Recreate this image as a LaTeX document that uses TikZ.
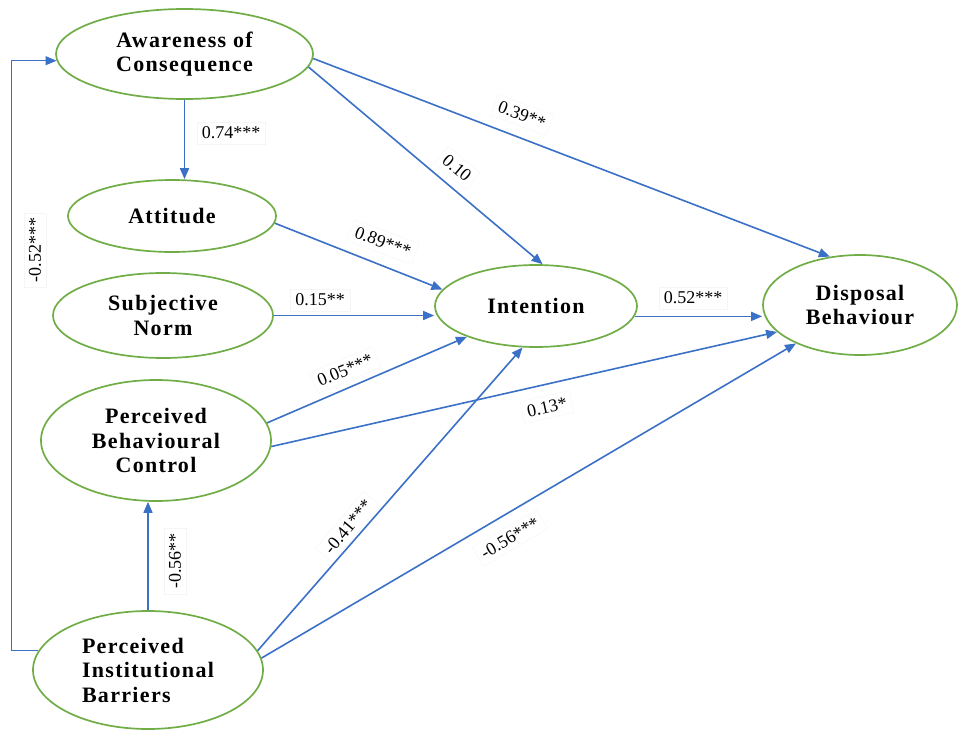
\documentclass[tikz,border=0pt]{standalone}
\usepackage{fontspec}
\setmainfont{Liberation Serif}
\newfontfamily\nodefont[LetterSpace=6]{Liberation Serif}
\usetikzlibrary{shapes.geometric,arrows.meta}
\definecolor{egreen}{HTML}{70AD47}
\definecolor{ablue}{HTML}{3A70C6}
\begin{document}
\begin{tikzpicture}[x=1pt,y=-1pt,
 construct/.style={ellipse, draw=egreen, line width=1.7pt, inner sep=0pt, align=center,
   font=\nodefont\fontsize{22}{24.5}\selectfont\bfseries},
 arr/.style={draw=ablue, line width=1.6pt, -{Triangle[length=11pt,width=9pt]}},
 lab/.style={font=\fontsize{18}{20}\selectfont, draw=black!4, inner sep=5pt}]
\useasboundingbox (0,0) rectangle (958,731);

\node[construct, minimum width=257, minimum height=90] (aoc) at (184.5,54) {Awareness of\\Consequence};
\node[construct, minimum width=208, minimum height=72] (att) at (172,216) {Attitude};
\node[construct, minimum width=220, minimum height=85] (sn) at (163,315.5) {Subjective\\Norm};
\node[construct, minimum width=230, minimum height=121] (pbc) at (156,440.5) {Perceived\\Behavioural\\Control};
\node[construct, minimum width=230, minimum height=118, align=left] (pib) at (148,670) {Perceived\\Institutional\\Barriers};
\node[construct, minimum width=202, minimum height=82] (int) at (536,306) {Intention};
\node[construct, minimum width=194, minimum height=100] (disp) at (860,305) {Disposal\\Behaviour};

\draw[arr] (aoc.south) -- (aoc.south |- att.north);
\draw[arr] (aoc.-2) -- (disp.122);
\draw[arr] (aoc.-6) -- (int.81);
\draw[arr] (att.-4) -- (int.170);
\draw[arr] (sn.east) -- (sn.east -| int.west);
\draw[arr] (pbc.9) -- (int.204);
\draw[arr] (pbc.-3) -- (disp.198);
\draw[arr] (int.-6) -- (int.-6 -| disp.west);
\draw[arr] (pib.north) -- (pib.north |- pbc.south);
\draw[arr] (pib.10) -- (int.252);
\draw[arr] (pib.6) -- (disp.211);
\draw[arr, line width=1pt] (pib.170) -- ++(-27,0) |- (aoc.183);

\node[lab] (l074) at (231,133) {0.74***};
\node[lab, rotate=-20.5] (l039) at (522,115) {0.39**};
\node[lab, rotate=-40] (l010) at (457,168) {0.10};
\node[lab, rotate=-20.5] (l089) at (383,242) {0.89***};
\node[lab] (l015) at (320,300) {0.15**};
\node[lab] (l052) at (693,298) {0.52***};
\node[lab, rotate=22.6] (l005) at (345,370) {0.05***};
\node[lab, rotate=12.8] (l013) at (547,407) {0.13*};
\node[lab, rotate=50] (l041) at (348,527) {-0.41***};
\node[lab, rotate=30.5] (l056b) at (510,538) {-0.56***};
\node[lab, rotate=90] (l052b) at (35,250) {-0.52***};
\node[lab, rotate=90] (l056) at (175,561) {-0.56**};
\end{tikzpicture}
\end{document}
